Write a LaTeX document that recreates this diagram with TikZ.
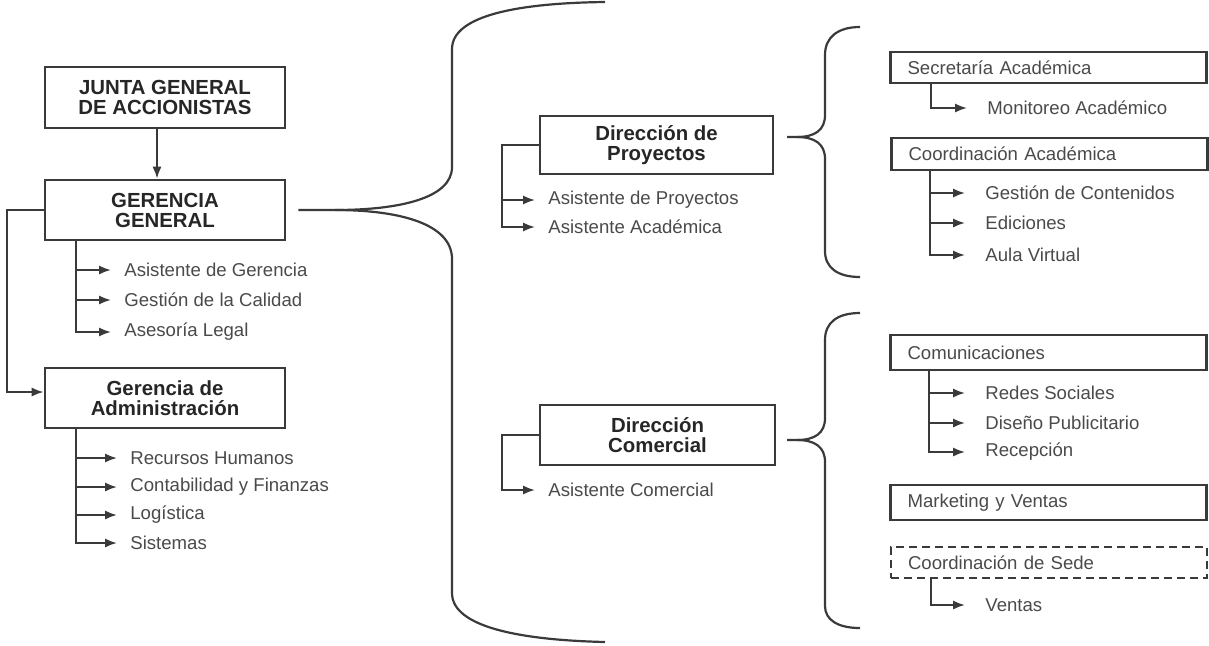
\documentclass[tikz,border=0pt]{standalone}
\usepackage{fontspec}
\setmainfont{Liberation Sans}
\usetikzlibrary{arrows.meta}
\definecolor{linegray}{HTML}{3A3A3A}
\definecolor{textgray}{HTML}{4A4A4A}
\tikzstyle{bigbox}=[draw=linegray,line width=1.4pt,align=center,
                    minimum width=120pt,minimum height=30pt,text=black!85,
                    font=\bfseries\fontsize{10.2}{10}\selectfont]
\tikzstyle{unitbox}=[draw=linegray,line width=1.3pt,align=left,
                     text width=141pt,inner xsep=8.5pt,text=textgray,
                     font=\fontsize{9.3}{11}\selectfont]
\tikzstyle{leaf}=[anchor=west,inner xsep=6.5pt,inner ysep=0pt,text=textgray,
                  font=\fontsize{9.3}{11}\selectfont]
\tikzstyle{leafr}=[leaf,inner xsep=10pt]
\tikzstyle{link}=[draw=linegray,line width=1pt,-{Latex[length=6pt,width=4.6pt]}]
\tikzstyle{curly}=[draw=linegray,line width=1.1pt]

\begin{document}
\begin{tikzpicture}[x=0.5pt,y=-0.5pt]
  \useasboundingbox (0,0) rectangle (1209,645);
  % left column
  \node (junta) at (165,97.5) [bigbox,minimum height=30.5pt]{JUNTA GENERAL\\DE ACCIONISTAS};
  \node (gg) at (165,210) [bigbox]{GERENCIA\\GENERAL};
  \node (ga) at (165,398) [bigbox]{Gerencia de\\Administración};
  \node (asg) at (111,270) [leaf]{Asistente de Gerencia};
  \node (gca) at (111,300) [leaf]{Gestión de la Calidad};
  \node (ale) at (111,332) [leaf]{Asesoría Legal};
  \node (rrh) at (117,458) [leaf]{Recursos Humanos};
  \node (cyf) at (117,487) [leaf]{Contabilidad y Finanzas};
  \node (log) at (117,515) [leaf]{Logística};
  \node (sis) at (117,543) [leaf]{Sistemas};
  \draw[link] ([xshift=-4pt]junta.south) -- ([xshift=-4pt]gg.north);
  \draw[link] (gg.west) -- ++(-37,0) |- ([yshift=3pt]ga.west);
  \foreach \n in {asg,gca,ale}
    \draw[link] ([xshift=16pt]gg.south west) |- (\n.west);
  \foreach \n in {rrh,cyf,log,sis}
    \draw[link] ([xshift=16pt]ga.south west) |- (\n.west);
  % big brace
  \draw[curly] ([xshift=6pt]gg.east) -- (335,210)
    .. controls (400,210) and (452,198) .. (452,167) -- (452,49)
    .. controls (452,15) and (520,3) .. (605,2);
  \draw[curly] (335,210)
    .. controls (400,210) and (452,224) .. (452,259) -- (452,593)
    .. controls (452,627) and (520,640) .. (605,642);
  % middle column
  \node (dp) at (656.5,145) [bigbox,minimum width=116.5pt,minimum height=29pt]{Dirección de\\Proyectos};
  \node (adp) at (535,200) [leaf]{Asistente de Proyectos};
  \node (aac) at (535,227) [leaf]{Asistente Académica};
  \foreach \n in {adp,aac}
    \draw[link] (dp.west) -- ++(-37,0) |- (\n.west);
  \node (dc) at (657.5,435) [bigbox,minimum width=117.5pt]{Dirección\\Comercial};
  \node (aco) at (535,490) [leaf]{Asistente Comercial};
  \draw[link] (dc.west) -- ++(-37,0) |- (aco.west);
  % small braces
  \draw[curly] (787,137) -- (797,137)
    .. controls (815,137) and (825,130) .. (825,115) -- (825,55)
    .. controls (825,37) and (838,27) .. (860,27);
  \draw[curly] (797,137)
    .. controls (815,137) and (825,144) .. (825,159) -- (825,251)
    .. controls (825,268) and (838,277) .. (860,277);
  \draw[curly] (787,440) -- (797,440)
    .. controls (815,440) and (825,433) .. (825,418) -- (825,340)
    .. controls (825,322) and (838,313) .. (860,313);
  \draw[curly] (797,440)
    .. controls (815,440) and (825,447) .. (825,462) -- (825,606)
    .. controls (825,620) and (838,628) .. (860,628);
  % right column
  \node (sec) at (1048.5,67.5) [unitbox,minimum height=15.5pt]{Secretaría Académica};
  \node (mon) at (967,108) [leafr]{Monitoreo Académico};
  \draw[link] ([xshift=21pt]sec.south west) |- (mon.west);
  \node (coa) at (1049.5,154) [unitbox,minimum height=16pt]{Coordinación Académica};
  \node (gco) at (965,193) [leafr]{Gestión de Contenidos};
  \node (edi) at (965,223) [leafr]{Ediciones};
  \node (auv) at (965,255) [leafr]{Aula Virtual};
  \foreach \n in {gco,edi,auv}
    \draw[link] ([xshift=20pt]coa.south west) |- (\n.west);
  \node (com) at (1048.5,352.5) [unitbox,minimum height=17.5pt]{Comunicaciones};
  \node (rds) at (965,393) [leafr]{Redes Sociales};
  \node (dpu) at (965,423) [leafr]{Diseño Publicitario};
  \node (rec) at (965,452) [leafr]{Recepción};
  \foreach \n in {rds,dpu,rec}
    \draw[link] ([xshift=20pt]com.south west) |- (\n.west);
  \node (mkt) at (1048.5,502.5) [unitbox,minimum height=17.5pt]{Marketing y Ventas};
  \node (sede) at (1049,562.5) [unitbox,dash pattern=on 4pt off 2.5pt,minimum height=15.5pt]{Coordinación de Sede};
  \node (ven) at (965,605) [leafr]{Ventas};
  \draw[link] ([xshift=20.5pt]sede.south west) |- (ven.west);
\end{tikzpicture}
\end{document}
